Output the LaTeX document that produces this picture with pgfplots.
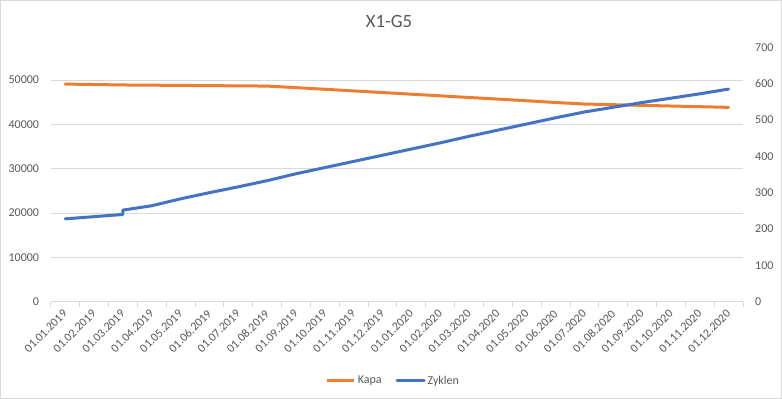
\documentclass[border=0pt]{standalone}
\usepackage{pgfplots}
\pgfplotsset{compat=1.18}
\usepackage{pgfplotstable}
\usepackage{fontspec}
\setmainfont{Carlito}
\definecolor{kapa}{HTML}{ED7D31}
\definecolor{zyk}{HTML}{4472C4}
\definecolor{gridc}{HTML}{D9D9D9}
\definecolor{txt}{HTML}{595959}

\pgfplotstableread{
x y
0 49100
1 49000
2 48900
3 48850
4 48800
5 48750
6 48700
7 48650
8 48300
9 47930
10 47560
11 47190
12 46820
13 46450
14 46080
15 45710
16 45340
17 44950
18 44600
19 44450
20 44300
21 44150
22 44000
23 43850
}\kapatab

\pgfplotstableread{
x y
0 228
1 234
2 240
2 252
3 264
4 283
5 300
6 316
7 333
8 352
9 369
10 386
11 403
12 420
13 437
14 455
15 472
16 489
17 506
18 522
19 535
20 548
21 560
22 572
23 585
}\zyktab

\begin{document}
\begin{tikzpicture}[x=1pt,y=1pt]
\useasboundingbox (0,0) rectangle (782,399);
\fill[white] (0,0) rectangle (782,399);
\draw[gridc, line width=0.75pt] (0.5,0.5) rectangle (781.5,398.5);
\node[txt, font=\fontsize{18.7}{22}\selectfont] at (389,377) {X1-G5};

\begin{axis}[
  at={(50.7pt,97.3pt)}, anchor=south west,
  scale only axis, width=692.3pt, height=254.4pt,
  xmin=-0.5, xmax=23.5, ymin=0, ymax=57400,
  axis x line*=bottom, axis y line*=left,
  x axis line style={gridc, line width=0.75pt},
  y axis line style={draw=none},
  xtick={0,...,23},
  xticklabels={01.01.2019,01.02.2019,01.03.2019,01.04.2019,01.05.2019,01.06.2019,01.07.2019,01.08.2019,01.09.2019,01.10.2019,01.11.2019,01.12.2019,01.01.2020,01.02.2020,01.03.2020,01.04.2020,01.05.2020,01.06.2020,01.07.2020,01.08.2020,01.09.2020,01.10.2020,01.11.2020,01.12.2020},
  minor xtick={-0.5,0.5,...,23.5},
  xtick align=outside,
  major tick length=0pt, minor tick length=5pt,
  minor x tick style={gridc, line width=0.75pt},
  ytick={0,10000,...,50000},
  scaled y ticks=false,
  ymajorgrids,
  major grid style={draw=gridc, line width=0.75pt},
  /pgf/number format/1000 sep={},
  /pgf/number format/assume math mode=true,
  tick label style={txt, font=\fontsize{12}{14}\selectfont},
  yticklabel style={inner sep=0pt, anchor=east, xshift=-11.5pt},
  xticklabel style={rotate=45, anchor=north east, inner sep=0pt, xshift=-7pt, yshift=-3pt},
]
\addplot[kapa, line width=3pt, line join=round, line cap=round] table[x=x,y=y] {\kapatab};
\end{axis}

\begin{axis}[
  at={(50.7pt,97.3pt)}, anchor=south west,
  scale only axis, width=692.3pt, height=254.4pt,
  xmin=-0.5, xmax=23.5, ymin=0, ymax=700,
  axis x line=none, axis y line*=right,
  y axis line style={draw=none},
  ytick={0,100,...,700},
  major tick length=0pt,
  /pgf/number format/1000 sep={},
  /pgf/number format/assume math mode=true,
  tick label style={txt, font=\fontsize{12}{14}\selectfont},
  yticklabel style={inner sep=0pt, anchor=west, xshift=12pt},
  legend columns=2,
  legend style={at={(0.495,-0.311)}, anchor=center, draw=none, fill=none,
    font=\fontsize{12}{14}\selectfont, text=txt,
    /tikz/every even column/.append style={column sep=12pt}},
  legend image code/.code={\draw[#1] (0pt,0pt) -- (27pt,0pt);},
]
\addlegendimage{kapa, line width=3pt}
\addlegendentry{Kapa}
\addplot[zyk, line width=3pt, line join=round, line cap=round] table[x=x,y=y] {\zyktab};
\addlegendentry{Zyklen}
\end{axis}
\end{tikzpicture}
\end{document}
